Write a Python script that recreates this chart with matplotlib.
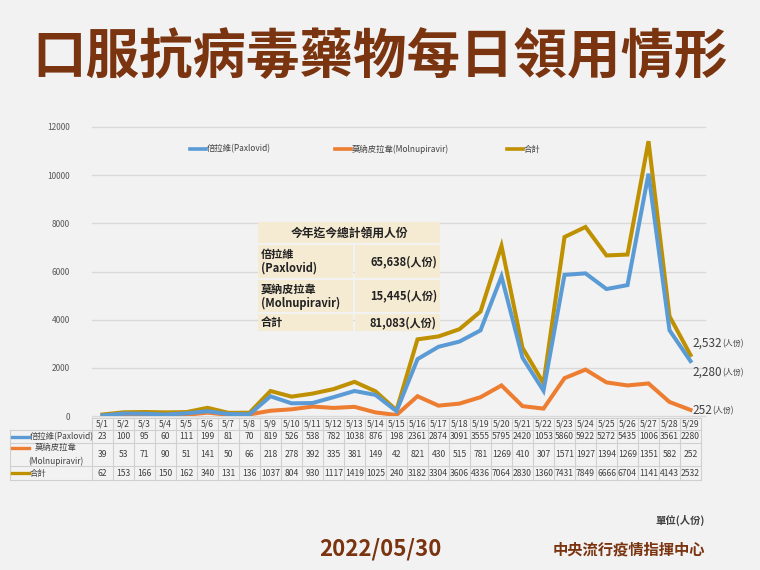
import matplotlib
matplotlib.use("Agg")
import matplotlib.pyplot as plt
import matplotlib.transforms as mtransforms
from matplotlib.patches import Rectangle
from matplotlib.lines import Line2D

plt.rcParams['font.family'] = ['Noto Sans CJK TC', 'DejaVu Sans']

# ---------------- data ----------------
dates = ["5/1", "5/2", "5/3", "5/4", "5/5", "5/6", "5/7", "5/8", "5/9", "5/10",
         "5/11", "5/12", "5/13", "5/14", "5/15", "5/16", "5/17", "5/18", "5/19", "5/20",
         "5/21", "5/22", "5/23", "5/24", "5/25", "5/26", "5/27", "5/28", "5/29"]
paxlovid = [23, 100, 95, 60, 111, 199, 81, 70, 819, 526,
            538, 782, 1038, 876, 198, 2361, 2874, 3091, 3555, 5795,
            2420, 1053, 5860, 5922, 5272, 5435, 10060, 3561, 2280]
molnupiravir = [39, 53, 71, 90, 51, 141, 50, 66, 218, 278,
                392, 335, 381, 149, 42, 821, 430, 515, 781, 1269,
                410, 307, 1571, 1927, 1394, 1269, 1351, 582, 252]
total = [62, 153, 166, 150, 162, 340, 131, 136, 1037, 804,
         930, 1117, 1419, 1025, 240, 3182, 3304, 3606, 4336, 7064,
         2830, 1360, 7431, 7849, 6666, 6704, 11411, 4143, 2532]
series_names = ["倍拉維(Paxlovid)", "莫納皮拉韋(Molnupiravir)", "合計"]
table_row_names = ["倍拉維(Paxlovid)", "莫納皮拉韋\n(Molnupiravir)", "合計"]
ytick_values = [0, 2000, 4000, 6000, 8000, 10000, 12000]
summary_title = "今年迄今總計領用人份"
summary_names = ["倍拉維\n(Paxlovid)", "莫納皮拉韋\n(Molnupiravir)", "合計"]
summary_values = [65638, 15445, 81083]

# ---------------- style ----------------
BG = "#f2f2f2"
BROWN = "#7a3410"
C_BLUE = "#5b9bd5"
C_ORANGE = "#ed7d31"
C_GOLD = "#bf9000"
GRID = "#d9d9d9"
TXT = "#404040"

W, H = 760, 570
fig = plt.figure(figsize=(W / 100, H / 100), dpi=100, facecolor=BG)

def fx(px):
    return px / W

def fy(py):
    return 1 - py / H

ax = fig.add_axes([fx(92), fy(416), fx(701) - fx(92), fy(127) - fy(416)])
ax.set_facecolor(BG)
x = list(range(len(dates)))
ax.set_xlim(-0.5, len(dates) - 0.5)
ax.set_ylim(0, 12000)
for s in ax.spines.values():
    s.set_visible(False)
ax.set_xticks([])
ax.set_yticks(ytick_values)
ax.set_yticklabels([str(v) for v in ytick_values], fontsize=6, color="#595959")
ax.tick_params(axis="y", length=0, pad=16)
for v in ytick_values:
    ax.plot([-0.5, len(dates) - 0.3], [v, v], color=GRID, lw=1.0, zorder=0, clip_on=False)

lw = 2.9
ax.plot(x, total, color=C_GOLD, lw=lw, zorder=2, solid_joinstyle="miter")
ax.plot(x, paxlovid, color=C_BLUE, lw=lw, zorder=3, solid_joinstyle="miter")
ax.plot(x, molnupiravir, color=C_ORANGE, lw=lw, zorder=1, solid_joinstyle="miter")

# legend
leg_items = [(190, C_BLUE, series_names[0]), (335, C_ORANGE, series_names[1]), (507, C_GOLD, series_names[2])]
for px, c, name in leg_items:
    fig.add_artist(Line2D([fx(px), fx(px + 16)], [fy(149), fy(149)], color=c, lw=2.6))
    fig.text(fx(px + 17), fy(149), name, fontsize=6, color=TXT, va="center", ha="left")

# end labels
last = len(dates) - 1
end_specs = [(total[last], 343), (paxlovid[last], 372), (molnupiravir[last], 410)]
for val, py in end_specs:
    t = fig.text(fx(692), fy(py), f"{val:,}", fontsize=8.5, color="#404040", va="center", ha="left")
    fig.canvas.draw()
    bb = t.get_window_extent()
    fig.text(bb.x1 / W + 0.001, fy(py + 1), "(人份)", fontsize=5.8, color="#404040", va="center", ha="left")

# ---------------- data table ----------------
tr = mtransforms.blended_transform_factory(ax.transData, fig.transFigure)
row_edges = [418, 430, 443, 466, 480]
tcol = "#d0d0d0"
for i, py in enumerate(row_edges):
    if i == 0:
        ax.add_line(Line2D([-0.5, last + 0.5], [fy(py), fy(py)], transform=tr, color=tcol, lw=0.8, clip_on=False))
    else:
        fig.add_artist(Line2D([fx(10), fx(701)], [fy(py), fy(py)], color=tcol, lw=0.8))
for i in range(len(dates) + 1):
    ax.add_line(Line2D([i - 0.5, i - 0.5], [fy(418), fy(480)], transform=tr, color=tcol, lw=0.8, clip_on=False))
fig.add_artist(Line2D([fx(10), fx(10)], [fy(430), fy(480)], color=tcol, lw=0.8))

row_centers = [(row_edges[k] + row_edges[k + 1]) / 2 for k in range(4)]
tfs = 6.2
for i, d in enumerate(dates):
    ax.text(i, fy(row_centers[0]), d, transform=tr, ha="center", va="center", fontsize=tfs, color=TXT)

def cell_text(v):
    s = str(v)
    # the source table cells are too narrow and clip five-digit numbers to four characters
    return s[:4]

for r, series in enumerate([paxlovid, molnupiravir, total]):
    for i, v in enumerate(series):
        ax.text(i, fy(row_centers[r + 1]), cell_text(v), transform=tr, ha="center",
                va="center", fontsize=tfs, color=TXT)

fig.add_artist(Line2D([fx(12), fx(29)], [fy(437), fy(437)], color=C_BLUE, lw=2.4))
fig.text(fx(30), fy(437), table_row_names[0], fontsize=6, color=TXT, ha="left", va="center")
fig.add_artist(Line2D([fx(12), fx(29)], [fy(448), fy(448)], color=C_ORANGE, lw=2.4))
fig.text(fx(56), fy(454.5), table_row_names[1], fontsize=6, color=TXT, ha="center", va="center",
         linespacing=1.6)
fig.add_artist(Line2D([fx(12), fx(29)], [fy(473), fy(473)], color=C_GOLD, lw=2.4))
fig.text(fx(30), fy(473), table_row_names[2], fontsize=6, color=TXT, ha="left", va="center")

# ---------------- summary box ----------------
BEIGE = "#f5ead2"
box_x0, box_split, box_x1 = 258, 354, 440
srows = [222, 244, 279, 313, 332]
gap = 1.5
fig.add_artist(Rectangle((fx(box_x0), fy(srows[1] - gap / 2)), fx(box_x1) - fx(box_x0),
                         fy(srows[0]) - fy(srows[1] - gap / 2), facecolor=BEIGE, edgecolor="none",
                         transform=fig.transFigure))
fig.text(fx((box_x0 + box_x1) / 2), fy((srows[0] + srows[1]) / 2), summary_title, fontsize=8.5,
         fontweight="bold", color="#222222", ha="center", va="center")
for k in range(3):
    top, bot = srows[k + 1] + gap / 2, srows[k + 2] - gap / 2
    fig.add_artist(Rectangle((fx(box_x0), fy(bot)), fx(box_split - gap / 2) - fx(box_x0),
                             fy(top) - fy(bot), facecolor=BEIGE, edgecolor="none", transform=fig.transFigure))
    fig.add_artist(Rectangle((fx(box_split + gap / 2), fy(bot)), fx(box_x1) - fx(box_split + gap / 2),
                             fy(top) - fy(bot), facecolor=BEIGE, edgecolor="none", transform=fig.transFigure))
    cy = fy((top + bot) / 2)
    fig.text(fx(box_x0 + 3), cy, summary_names[k], fontsize=8, fontweight="bold", color="#222222",
             ha="left", va="center", linespacing=1.1)
    fig.text(fx(box_x1 - 3), cy, f"{summary_values[k]:,}(人份)", fontsize=8, fontweight="bold",
             color="#222222", ha="right", va="center")

# ---------------- titles / footer ----------------
fig.text(0.5, fy(58), "口服抗病毒藥物每日領用情形", fontsize=38.5, fontweight="heavy", color=BROWN,
         ha="center", va="center")
fig.text(fx(705), fy(520), "單位(人份)", fontsize=7.5, fontweight="bold", color="#404040",
         ha="right", va="center")
fig.text(fx(380), fy(549), "2022/05/30", fontsize=16, fontweight="bold", color=BROWN,
         ha="center", va="center")
fig.text(fx(705), fy(549), "中央流行疫情指揮中心", fontsize=11, fontweight="bold", color=BROWN,
         ha="right", va="center")

fig.savefig("out.png", dpi=100, facecolor=BG)
